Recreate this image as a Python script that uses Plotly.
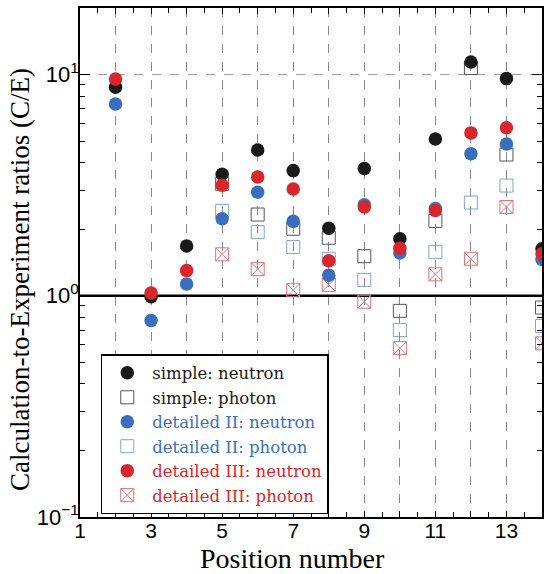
import plotly.graph_objects as go

positions = [2, 3, 4, 5, 6, 7, 8, 9, 10, 11, 12, 13, 14]
simple_neutron = [8.76, 0.99, 1.68, 3.54, 4.56, 3.68, 2.02, 3.76, 1.81, 5.12, 11.4, 9.59, 1.63]
simple_photon = [None, None, None, 3.21, 2.33, 2.01, 1.83, 1.51, 0.855, 2.18, 10.7, 4.35, 0.885]
dII_neutron = [7.37, 0.773, 1.13, 2.23, 2.94, 2.17, 1.24, 2.58, 1.56, 2.48, 4.39, 4.86, 1.46]
dII_photon = [None, None, None, 2.42, 1.94, 1.66, 1.47, 1.18, 0.70, 1.58, 2.64, 3.15, 0.73]
dIII_neutron = [9.56, 1.03, 1.30, 3.16, 3.44, 3.04, 1.44, 2.52, 1.64, 2.43, 5.45, 5.75, 1.55]
dIII_photon = [None, None, None, 1.54, 1.32, 1.06, 1.12, 0.94, 0.58, 1.25, 1.47, 2.52, 0.61]

x_tickvals = list(range(1, 15))
x_ticktext = [str(v) if v % 2 == 1 else "" for v in x_tickvals]
y_tickvals = [0.1, 1, 10]
y_ticktext = ["10<sup>\u22121</sup>", "10<sup>0</sup>", "10<sup>1</sup>"]

BLACK = "#1a1a1a"
BLUE = "#3a6fc0"
RED = "#d9262c"
BLACK_SQ = "#555555"
BLUE_SQ = "#7fa3d9"
RED_SQ = "#e87070"
SERIF = "Liberation Serif"
LEG_FONT = "DejaVu Serif"

fig = go.Figure()

# reference lines
fig.add_trace(go.Scatter(x=[1, 14], y=[10, 10], mode="lines", showlegend=False,
                         line=dict(color="#999999", width=1, dash="dash"), hoverinfo="skip"))
fig.add_trace(go.Scatter(x=[1, 14], y=[1, 1], mode="lines", showlegend=False,
                         line=dict(color="black", width=2.5), hoverinfo="skip"))

def lab(text, color):
    return f"<span style='color:{color}'>{text}</span>"

fig.add_trace(go.Scatter(x=positions, y=simple_photon, mode="markers", name=lab("simple: photon", BLACK),
                         legendrank=2, marker=dict(symbol="square-open", size=13, color=BLACK_SQ, line=dict(width=1))))
fig.add_trace(go.Scatter(x=positions, y=dII_photon, mode="markers", name=lab("detailed II: photon", BLUE),
                         legendrank=4, marker=dict(symbol="square-open", size=13, color=BLUE_SQ, line=dict(width=1))))
fig.add_trace(go.Scatter(x=positions, y=dIII_photon, mode="markers", name=lab("detailed III: photon", RED),
                         legendrank=6, marker=dict(symbol="square-x-open", size=13, color=RED_SQ, line=dict(width=1))))
fig.add_trace(go.Scatter(x=positions, y=simple_neutron, mode="markers", name=lab("simple: neutron", BLACK),
                         legendrank=1, marker=dict(symbol="circle", size=13.5, color=BLACK)))
fig.add_trace(go.Scatter(x=positions, y=dII_neutron, mode="markers", name=lab("detailed II: neutron", BLUE),
                         legendrank=3, marker=dict(symbol="circle", size=13.5, color=BLUE)))
fig.add_trace(go.Scatter(x=positions, y=dIII_neutron, mode="markers", name=lab("detailed III: neutron", RED),
                         legendrank=5, marker=dict(symbol="circle", size=13.5, color=RED)))

minor_y = [v * m for m in (0.1, 1, 10) for v in range(2, 10)]
minor_y = [v for v in minor_y if v <= 20]

fig.update_layout(
    width=544, height=574,
    margin=dict(l=80, r=2, t=8, b=57),
    paper_bgcolor="white", plot_bgcolor="white",
    font=dict(family=SERIF, color="black"),
    showlegend=True,
    legend=dict(x=0.045, y=0.32, xanchor="left", yanchor="top",
                bgcolor="white", bordercolor="black", borderwidth=1.5,
                font=dict(family=LEG_FONT, size=16.5),
                itemwidth=40, tracegroupgap=0),
    xaxis=dict(range=[1, 14], tickmode="array", tickvals=x_tickvals, ticktext=x_ticktext,
               ticks="inside", ticklen=6, tickcolor="black", mirror="allticks",
               showline=True, linecolor="black", linewidth=1.5,
               showgrid=True, gridcolor="#888888", gridwidth=1, griddash="dash",
               zeroline=False, automargin=False, ticklabelstandoff=-6,
               tickfont=dict(family="Liberation Sans", size=21),
               minor=dict(tickvals=[v + 0.5 for v in range(1, 14)], ticks="inside", ticklen=5,
                          tickcolor="black", showgrid=False)),
    yaxis=dict(type="log", range=[-1, 1.301], tickmode="array", tickvals=y_tickvals, ticktext=y_ticktext,
               ticks="inside", ticklen=10, tickcolor="black", mirror="allticks",
               showline=True, linecolor="black", linewidth=1.5,
               showgrid=False, zeroline=False, automargin=False, ticklabelstandoff=-5,
               tickfont=dict(family="Liberation Sans", size=22),
               minor=dict(tickvals=minor_y, ticks="inside", ticklen=5, tickcolor="black", showgrid=False)),
    annotations=[
        dict(text="Position number", xref="paper", yref="paper", x=(292 - 80) / 462, y=0,
             yshift=-24, xanchor="center", yanchor="top", showarrow=False,
             font=dict(family=SERIF, size=28)),
        dict(text="Calculation-to-Experiment ratios (C/E)", xref="paper", yref="paper",
             x=0, xshift=-60, y=(517 - 280) / 509, xanchor="center", yanchor="middle",
             textangle=-90, showarrow=False, font=dict(family=SERIF, size=27)),
    ],
)

fig.write_html(
    "out.html",
    config={"displayModeBar": False},
    post_script="document.body.style.margin='0';document.body.style.overflow='hidden';",
)
